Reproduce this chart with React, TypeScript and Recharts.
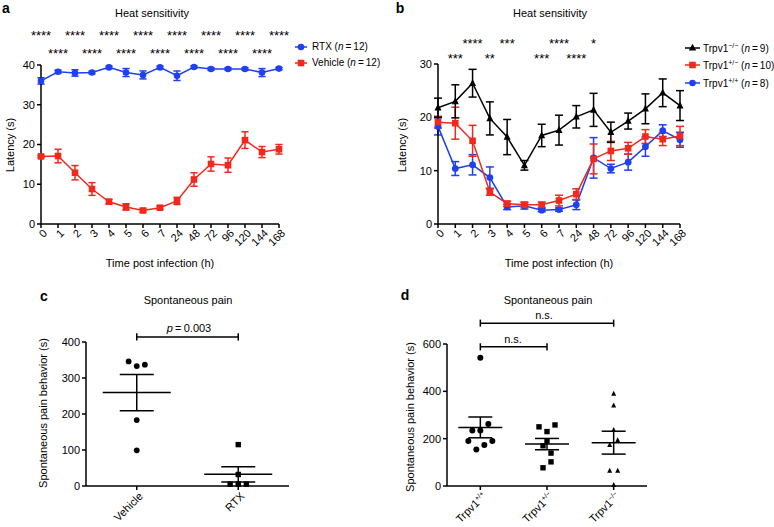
import React from "react";
import { LineChart, Line, XAxis, YAxis, ErrorBar, ScatterChart, Scatter, ReferenceLine } from "recharts";

const FONT = "'Liberation Sans', Arial, Helvetica, sans-serif";
const RED = "#f0291c";
const BLUE = "#1f3ff2";
const BLACK = "#000";

// time points (h), shared by panels a and b
const hours = ["0", "1", "2", "3", "4", "5", "6", "7", "24", "48", "72", "96", "120", "144", "168"];

// panel a: latency (s), mean and SEM
const rtxMean = [36.0, 38.3, 38.0, 38.1, 39.4, 38.1, 37.5, 39.4, 37.3, 39.5, 39.0, 39.0, 39.0, 38.1, 39.1];
const rtxSem = [0.8, 0.4, 0.8, 0.3, 0.3, 1.0, 1.0, 0.3, 1.2, 0.3, 0.3, 0.3, 0.3, 1.0, 0.3];
const vehMean = [17.0, 17.1, 12.9, 8.8, 5.6, 4.3, 3.4, 4.1, 5.8, 11.2, 15.1, 14.8, 21.1, 18.1, 18.8];
const vehSem = [0.3, 1.7, 1.8, 1.6, 0.6, 0.8, 0.4, 0.4, 0.9, 1.7, 1.8, 1.8, 2.1, 1.4, 1.2];
const starsTopA = ["****", "", "****", "", "****", "", "****", "", "****", "", "****", "", "****", "", "****"];
const starsLowA = ["", "****", "", "****", "", "****", "", "****", "", "****", "", "****", "", "****", ""];

// panel b: latency (s), mean and SEM
const koMean = [21.8, 23.0, 26.4, 19.8, 16.3, 11.0, 16.6, 17.6, 20.1, 21.4, 17.2, 19.3, 21.6, 24.6, 22.2];
const koSem = [1.8, 3.1, 2.6, 3.1, 3.3, 0.9, 2.1, 2.8, 2.1, 3.1, 1.9, 1.5, 2.8, 2.6, 2.8];
const hetMean = [19.1, 18.9, 15.6, 6.0, 3.8, 3.6, 3.6, 4.4, 5.6, 12.2, 13.7, 14.2, 16.4, 15.9, 16.5];
const hetSem = [1.1, 3.0, 2.9, 0.6, 0.5, 0.5, 0.5, 1.0, 1.0, 2.8, 1.8, 1.1, 1.3, 1.2, 1.8];
const wtMean = [18.3, 10.4, 11.1, 8.7, 3.2, 3.4, 2.6, 2.7, 3.6, 12.4, 10.4, 11.6, 14.5, 17.5, 15.8];
const wtSem = [1.6, 1.3, 1.9, 2.0, 0.5, 0.6, 0.3, 0.3, 0.9, 3.8, 0.8, 1.5, 1.8, 1.1, 1.4];
const starsTopB = ["", "", "****", "", "***", "", "", "****", "", "*", "", "", "", "", ""];
const starsLowB = ["", "***", "", "**", "", "", "***", "", "****", "", "", "", "", "", ""];

// panel c: spontaneous pain behaviour (s), individual animals
const groupsC = ["Vehicle", "RTX"];
const vehicleVals = [346, 333, 337, 183, 99];
const vehicleJit = [-0.08, 0, 0.08, 0, 0];
const rtxVals = [115, 32, 5, 5, 5];
const rtxJit = [0, 0, -0.08, 0, 0.08];

// panel d
const groupsD = ["+/+", "+/\u2212", "\u2212/\u2212"];
const wtVals = [542, 262, 235, 235, 190, 190, 173, 154];
const wtJit = [0, 0.12, -0.12, 0, -0.18, 0.18, 0.06, -0.06];
const hetVals = [250, 258, 230, 190, 170, 139, 102, 77];
const hetJit = [-0.12, 0.12, 0, 0, -0.06, 0.06, 0.06, -0.06];
const koVals = [390, 340, 237, 193, 173, 64, 64, 4];
const koJit = [0, 0, 0, 0.06, -0.06, -0.06, 0.06, 0];

const dataA = hours.map((h, i) => ({ hour: h, rtx: rtxMean[i], rtxE: rtxSem[i], veh: vehMean[i], vehE: vehSem[i] }));
const dataB = hours.map((h, i) => ({
  hour: h, ko: koMean[i], koE: koSem[i], het: hetMean[i], hetE: hetSem[i], wt: wtMean[i], wtE: wtSem[i],
}));

const mean = (v: number[]) => v.reduce((a, b) => a + b, 0) / v.length;
const sem = (v: number[]) => {
  const m = mean(v);
  return Math.sqrt(v.reduce((a, b) => a + (b - m) ** 2, 0) / (v.length - 1)) / Math.sqrt(v.length);
};
const pts = (vals: number[], jit: number[], x: number) => vals.map((y, i) => ({ x: x + jit[i], y }));
const summary = (vals: number[], x: number) => [{ x, y: mean(vals), e: sem(vals) }];

// markers
const circleDot = (color: string, r: number) => (p: any) =>
  <circle key={`c${p.index}`} cx={p.cx} cy={p.cy} r={r} fill={color} />;
const squareDot = (color: string, s: number) => (p: any) =>
  <rect key={`s${p.index}`} x={p.cx - s / 2} y={p.cy - s / 2} width={s} height={s} fill={color} />;
const triDot = (color: string, s: number) => (p: any) =>
  <polygon key={`t${p.index}`} points={`${p.cx},${p.cy - s * 0.6} ${p.cx - s / 2},${p.cy + s * 0.4} ${p.cx + s / 2},${p.cy + s * 0.4}`} fill={color} />;
const meanBar = (half: number) => (p: any) =>
  <line x1={p.cx - half} x2={p.cx + half} y1={p.cy} y2={p.cy} stroke={BLACK} strokeWidth={1.5} />;

const axisProps = { stroke: BLACK, strokeWidth: 1.5 };
const tickFont = { fill: BLACK, fontSize: 11, fontFamily: FONT };

// slanted hour labels
const HourTick = (p: any) => (
  <g transform={`translate(${p.x + 4},${p.y + 1}) rotate(-45)`}>
    <text x={0} y={4} textAnchor="end" fontSize={11} fontFamily={FONT} fill={BLACK}>{p.payload.value}</text>
  </g>
);

const starTick = (top: string[], low: string[], y1: number, y2: number) => (p: any) => {
  const i = hours.indexOf(String(p.payload.value));
  return (
    <g>
      <text x={p.x} y={y1} textAnchor="middle" fontSize={13} fontFamily={FONT} fill={BLACK}>{top[i]}</text>
      <text x={p.x} y={y2} textAnchor="middle" fontSize={13} fontFamily={FONT} fill={BLACK}>{low[i]}</text>
    </g>
  );
};

// slanted group labels (Trpv1 genotypes get a superscript)
const groupTick = (names: string[], trpv: boolean) => (p: any) => {
  const name = names[Math.round(p.payload.value) - 1];
  return (
    <g transform={`translate(${p.x + 4},${p.y + 2}) rotate(-45)`}>
      <text x={0} y={4} textAnchor="end" fontSize={11} fontFamily={FONT} fill={BLACK}>
        {trpv ? <>Trpv1<tspan dy={-4} fontSize={7}>{name}</tspan></> : name}
      </text>
    </g>
  );
};

function Txt(props: { x: number; y: number; children: React.ReactNode; size?: number; rotate?: number; bold?: boolean; align?: "center" | "left" }) {
  const { x, y, children, size = 11, rotate = 0, bold = false, align = "center" } = props;
  return (
    <div
      style={{
        position: "absolute", left: x, top: y, whiteSpace: "nowrap", lineHeight: 1, color: BLACK,
        fontFamily: FONT, fontSize: size, fontWeight: bold ? "bold" : "normal",
        transform: `translate(${align === "center" ? "-50%" : "0"},-50%) rotate(${rotate}deg)`,
      }}
    >
      {children}
    </div>
  );
}

function Key(props: { x: number; y: number; len: number; color: string; marker: "circle" | "square" | "tri"; textX: number; children: React.ReactNode }) {
  const { x, y, len, color, marker, textX, children } = props;
  const m = len / 2;
  return (
    <>
      <svg style={{ position: "absolute", left: x, top: y - 5 }} width={len} height={10}>
        <line x1={0} x2={len} y1={5} y2={5} stroke={color} strokeWidth={1.5} />
        {marker === "circle" && <circle cx={m} cy={5} r={3.3} fill={color} />}
        {marker === "square" && <rect x={m - 3.3} y={1.7} width={6.6} height={6.6} fill={color} />}
        {marker === "tri" && <polygon points={`${m},0.8 ${m - 3.7},7.6 ${m + 3.7},7.6`} fill={color} />}
      </svg>
      <Txt x={textX} y={y} size={10} align="left">{children}</Txt>
    </>
  );
}

export default function App() {
  return (
    <div style={{ position: "absolute", left: 0, top: 0, width: 774, height: 527, background: "#fff", fontFamily: FONT }}>
      {/* panel a */}
      <div style={{ position: "absolute", left: 0, top: 0 }}>
        <LineChart width={300} height={256} data={dataA} margin={{ top: 20, right: 21, bottom: 0, left: 0 }}>
          <XAxis xAxisId="stars" orientation="top" dataKey="hour" interval={0} axisLine={false} tickLine={false} height={45}
            tick={starTick(starsTopA, starsLowA, 40, 58)} />
          <XAxis dataKey="hour" interval={0} height={32} axisLine={axisProps} tickLine={axisProps} tickSize={4} tick={HourTick} />
          <YAxis domain={[0, 40]} ticks={[0, 10, 20, 30, 40]} width={41} axisLine={axisProps} tickLine={axisProps} tickSize={4} tick={tickFont} />
          <Line dataKey="veh" stroke={RED} strokeWidth={1.5} isAnimationActive={false} dot={squareDot(RED, 6.6)} activeDot={false}>
            <ErrorBar dataKey="vehE" direction="y" width={3.6} stroke={RED} strokeWidth={1.5} />
          </Line>
          <Line dataKey="rtx" stroke={BLUE} strokeWidth={1.5} isAnimationActive={false} dot={circleDot(BLUE, 3.3)} activeDot={false}>
            <ErrorBar dataKey="rtxE" direction="y" width={3.6} stroke={BLUE} strokeWidth={1.5} />
          </Line>
        </LineChart>
      </div>

      {/* panel b */}
      <div style={{ position: "absolute", left: 390, top: 0 }}>
        <LineChart width={300} height={256} data={dataB} margin={{ top: 20, right: 10, bottom: 0, left: 0 }}>
          <XAxis xAxisId="stars" orientation="top" dataKey="hour" interval={0} axisLine={false} tickLine={false} height={44}
            tick={starTick(starsTopB, starsLowB, 48, 62.7)} />
          <XAxis dataKey="hour" interval={0} height={32} axisLine={axisProps} tickLine={axisProps} tickSize={4} tick={HourTick} />
          <YAxis domain={[0, 30]} ticks={[0, 10, 20, 30]} width={48} axisLine={axisProps} tickLine={axisProps} tickSize={4} tick={tickFont} />
          <Line dataKey="wt" stroke={BLUE} strokeWidth={1.5} isAnimationActive={false} dot={circleDot(BLUE, 3.4)} activeDot={false}>
            <ErrorBar dataKey="wtE" direction="y" width={4} stroke={BLUE} strokeWidth={1.5} />
          </Line>
          <Line dataKey="het" stroke={RED} strokeWidth={1.5} isAnimationActive={false} dot={squareDot(RED, 6.6)} activeDot={false}>
            <ErrorBar dataKey="hetE" direction="y" width={4} stroke={RED} strokeWidth={1.5} />
          </Line>
          <Line dataKey="ko" stroke={BLACK} strokeWidth={1.5} isAnimationActive={false} dot={triDot(BLACK, 7)} activeDot={false}>
            <ErrorBar dataKey="koE" direction="y" width={4} stroke={BLACK} strokeWidth={1.5} />
          </Line>
        </LineChart>
      </div>

      {/* panel c */}
      <div style={{ position: "absolute", left: 0, top: 300 }}>
        <ScatterChart width={300} height={226} margin={{ top: 42, right: 11, bottom: 0, left: 0 }}>
          <XAxis type="number" dataKey="x" domain={[0.5, 2.5]} ticks={[1, 2]} height={40} axisLine={axisProps} tickLine={axisProps} tickSize={4}
            tick={groupTick(groupsC, false)} />
          <YAxis type="number" dataKey="y" domain={[0, 400]} ticks={[0, 100, 200, 300, 400]} width={86} axisLine={axisProps} tickLine={axisProps} tickSize={4} tick={tickFont} />
          <Scatter data={pts(vehicleVals, vehicleJit, 1)} shape={circleDot(BLACK, 2.9)} isAnimationActive={false} />
          <Scatter data={pts(rtxVals, rtxJit, 2)} shape={squareDot(BLACK, 5.4)} isAnimationActive={false} />
          <Scatter data={summary(vehicleVals, 1)} shape={meanBar(34)} isAnimationActive={false}>
            <ErrorBar dataKey="e" direction="y" width={17} stroke={BLACK} strokeWidth={1.5} />
          </Scatter>
          <Scatter data={summary(rtxVals, 2)} shape={meanBar(34)} isAnimationActive={false}>
            <ErrorBar dataKey="e" direction="y" width={17} stroke={BLACK} strokeWidth={1.5} />
          </Scatter>
          <ReferenceLine segment={[{ x: 1, y: 414 }, { x: 2, y: 414 }]} ifOverflow="visible" stroke={BLACK} strokeWidth={1.5} />
          <ReferenceLine segment={[{ x: 1, y: 404 }, { x: 1, y: 424 }]} ifOverflow="visible" stroke={BLACK} strokeWidth={1.5} />
          <ReferenceLine segment={[{ x: 2, y: 404 }, { x: 2, y: 424 }]} ifOverflow="visible" stroke={BLACK} strokeWidth={1.5} />
        </ScatterChart>
      </div>

      {/* panel d */}
      <div style={{ position: "absolute", left: 390, top: 300 }}>
        <ScatterChart width={270} height={226} margin={{ top: 44, right: 13, bottom: 0, left: 0 }}>
          <XAxis type="number" dataKey="x" domain={[0.5, 3.5]} ticks={[1, 2, 3]} height={40} axisLine={axisProps} tickLine={axisProps} tickSize={4}
            tick={groupTick(groupsD, true)} />
          <YAxis type="number" dataKey="y" domain={[0, 600]} ticks={[0, 200, 400, 600]} width={57} axisLine={axisProps} tickLine={axisProps} tickSize={4} tick={tickFont} />
          <Scatter data={pts(wtVals, wtJit, 1)} shape={circleDot(BLACK, 3)} isAnimationActive={false} />
          <Scatter data={pts(hetVals, hetJit, 2)} shape={squareDot(BLACK, 5.4)} isAnimationActive={false} />
          <Scatter data={pts(koVals, koJit, 3)} shape={triDot(BLACK, 5)} isAnimationActive={false} />
          <Scatter data={summary(wtVals, 1)} shape={meanBar(22)} isAnimationActive={false}>
            <ErrorBar dataKey="e" direction="y" width={12} stroke={BLACK} strokeWidth={1.5} />
          </Scatter>
          <Scatter data={summary(hetVals, 2)} shape={meanBar(22)} isAnimationActive={false}>
            <ErrorBar dataKey="e" direction="y" width={12} stroke={BLACK} strokeWidth={1.5} />
          </Scatter>
          <Scatter data={summary(koVals, 3)} shape={meanBar(22)} isAnimationActive={false}>
            <ErrorBar dataKey="e" direction="y" width={12} stroke={BLACK} strokeWidth={1.5} />
          </Scatter>
          <ReferenceLine segment={[{ x: 1, y: 688 }, { x: 3, y: 688 }]} ifOverflow="visible" stroke={BLACK} strokeWidth={1.5} />
          <ReferenceLine segment={[{ x: 1, y: 673 }, { x: 1, y: 703 }]} ifOverflow="visible" stroke={BLACK} strokeWidth={1.5} />
          <ReferenceLine segment={[{ x: 3, y: 673 }, { x: 3, y: 703 }]} ifOverflow="visible" stroke={BLACK} strokeWidth={1.5} />
          <ReferenceLine segment={[{ x: 1, y: 588 }, { x: 2, y: 588 }]} ifOverflow="visible" stroke={BLACK} strokeWidth={1.5} />
          <ReferenceLine segment={[{ x: 1, y: 573 }, { x: 1, y: 603 }]} ifOverflow="visible" stroke={BLACK} strokeWidth={1.5} />
          <ReferenceLine segment={[{ x: 2, y: 573 }, { x: 2, y: 603 }]} ifOverflow="visible" stroke={BLACK} strokeWidth={1.5} />
        </ScatterChart>
      </div>

      {/* titles, labels, legends */}
      <Txt x={6} y={8} size={14} bold>a</Txt>
      <Txt x={400} y={8} size={14} bold>b</Txt>
      <Txt x={44} y={296} size={14} bold>c</Txt>
      <Txt x={405} y={295} size={14} bold>d</Txt>

      <Txt x={152} y={13}>Heat sensitivity</Txt>
      <Txt x={550} y={13}>Heat sensitivity</Txt>
      <Txt x={188} y={300}>Spontaneous pain</Txt>
      <Txt x={548} y={300}>Spontaneous pain</Txt>

      <Txt x={10} y={145} rotate={-90}>Latency (s)</Txt>
      <Txt x={402} y={145} rotate={-90}>Latency (s)</Txt>
      <Txt x={43} y={413} rotate={-90}>Spontaneous pain behavior (s)</Txt>
      <Txt x={410} y={417} rotate={-90}>Spontaneous pain behavior (s)</Txt>

      <Txt x={160} y={263}>Time post infection (h)</Txt>
      <Txt x={559} y={263}>Time post infection (h)</Txt>

      <Txt x={189} y={328}><i>p</i>{"\u2009=\u20090.003"}</Txt>
      <Txt x={544} y={315}>n.s.</Txt>
      <Txt x={513} y={339}>n.s.</Txt>

      <Key x={295} y={47} len={12} color={BLUE} marker="circle" textX={312}>RTX (<i>n</i>{"\u2009=\u200912)"}</Key>
      <Key x={295} y={63} len={12} color={RED} marker="square" textX={312}>Vehicle (<i>n</i>{"\u2009=\u200912)"}</Key>

      <Key x={685} y={48} len={15} color={BLACK} marker="tri" textX={703}>Trpv1<sup style={{ fontSize: 7 }}>{"\u2212/\u2212"}</sup> (<i>n</i>{"\u2009=\u20099)"}</Key>
      <Key x={685} y={65} len={15} color={RED} marker="square" textX={703}>Trpv1<sup style={{ fontSize: 7 }}>+/{"\u2212"}</sup> (<i>n</i>{"\u2009=\u200910)"}</Key>
      <Key x={685} y={83} len={15} color={BLUE} marker="circle" textX={703}>Trpv1<sup style={{ fontSize: 7 }}>+/+</sup> (<i>n</i>{"\u2009=\u20098)"}</Key>
    </div>
  );
}
